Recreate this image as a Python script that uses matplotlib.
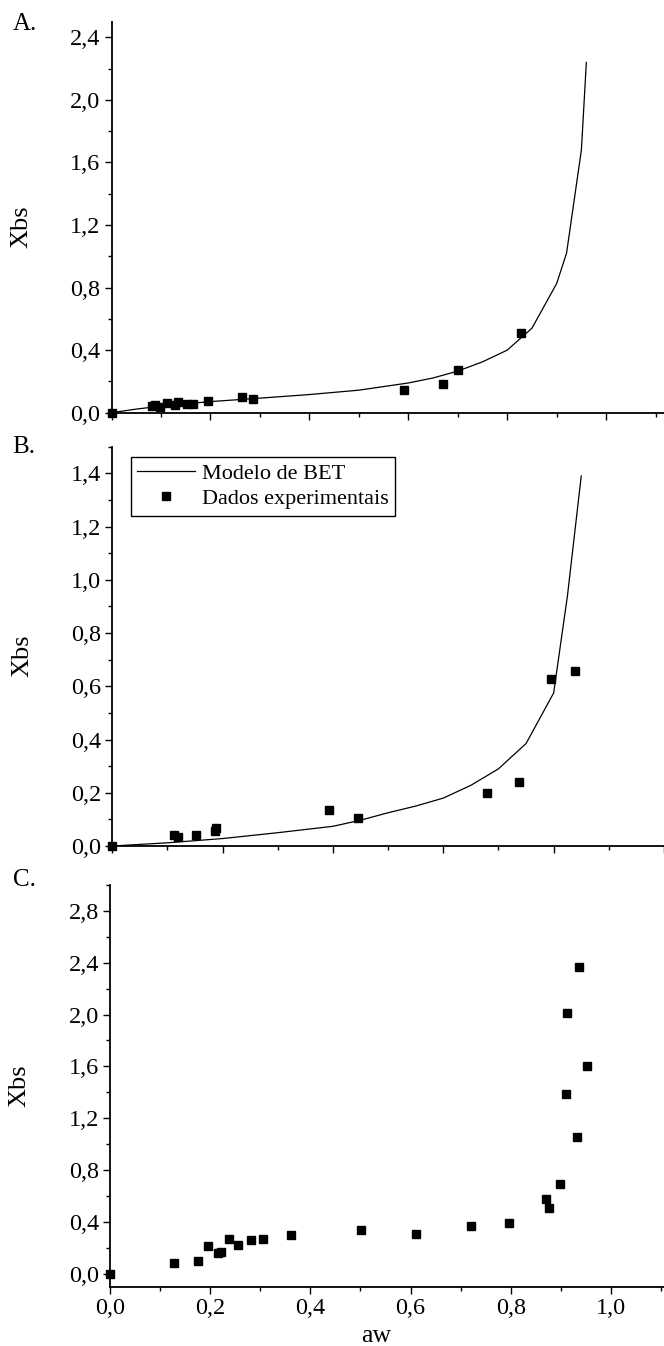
import numpy as np
import matplotlib
matplotlib.use('Agg')
import matplotlib.pyplot as plt
from matplotlib.ticker import MultipleLocator, FuncFormatter

plt.rcParams['font.family'] = ['Liberation Serif', 'DejaVu Serif']
plt.rcParams['mathtext.fontset'] = 'stix'

# panel A: experimental points and BET curve
aw_a = [0.0, 0.082, 0.087, 0.098, 0.113, 0.128, 0.134, 0.152, 0.165, 0.196,
        0.263, 0.287, 0.592, 0.671, 0.701, 0.827]
xbs_a = [0.0, 0.043, 0.049, 0.038, 0.060, 0.047, 0.066, 0.053, 0.058, 0.077,
         0.102, 0.088, 0.145, 0.185, 0.270, 0.509]
bet_aw_a = [0.0, 0.05, 0.1, 0.15, 0.2, 0.3, 0.4, 0.5, 0.6, 0.65, 0.7, 0.75,
            0.8, 0.85, 0.9, 0.92, 0.95, 0.96]
bet_x_a = [0.0, 0.023, 0.042, 0.057, 0.071, 0.093, 0.116, 0.144, 0.19, 0.222,
           0.266, 0.325, 0.40, 0.54, 0.826, 1.02, 1.68, 2.24]

# panel B
aw_b = [0.0, 0.111, 0.119, 0.152, 0.187, 0.188, 0.392, 0.446, 0.680, 0.737,
        0.795, 0.838]
xbs_b = [0.0, 0.041, 0.033, 0.041, 0.058, 0.066, 0.135, 0.106, 0.198, 0.239,
         0.629, 0.656]
bet_aw_b = [0.0, 0.1, 0.2, 0.3, 0.4, 0.45, 0.5, 0.55, 0.6, 0.65, 0.7, 0.75,
            0.8, 0.825, 0.85]
bet_x_b = [0.0, 0.012, 0.028, 0.05, 0.074, 0.097, 0.125, 0.15, 0.18, 0.228,
           0.29, 0.385, 0.575, 0.94, 1.39]

# panel C (points only)
aw_c = [0.0, 0.128, 0.175, 0.195, 0.215, 0.221, 0.237, 0.255, 0.281, 0.305,
        0.361, 0.502, 0.611, 0.720, 0.796, 0.871, 0.876, 0.899, 0.910, 0.932,
        0.913, 0.937, 0.953]
xbs_c = [0.0, 0.082, 0.099, 0.214, 0.163, 0.168, 0.269, 0.220, 0.258, 0.270,
         0.298, 0.334, 0.309, 0.368, 0.389, 0.579, 0.507, 0.695, 1.385, 1.055,
         2.010, 2.368, 1.601]

W, H = 664, 1346
fig = plt.figure(figsize=(W / 100, H / 100), dpi=100)


def make_axes(left, top, bottom, right=664):
    return fig.add_axes([left / W, 1 - bottom / H, (right - left) / W,
                         (bottom - top) / H])


comma = FuncFormatter(lambda v, p: ('%.1f' % v).replace('.', ','))


def style(ax, xmax, ylim, ymaj, show_x):
    ax.set_xlim(0, xmax)
    ax.set_ylim(*ylim)
    for s in ['top', 'right']:
        ax.spines[s].set_visible(False)
    for s in ['left', 'bottom']:
        ax.spines[s].set_linewidth(1.3)
    ax.xaxis.set_major_locator(MultipleLocator(0.2))
    ax.xaxis.set_minor_locator(MultipleLocator(0.1))
    ax.yaxis.set_major_locator(MultipleLocator(ymaj))
    ax.yaxis.set_minor_locator(MultipleLocator(ymaj / 2))
    ax.yaxis.set_major_formatter(comma)
    ax.xaxis.set_major_formatter(comma)
    ax.tick_params(which='major', direction='out', length=5, width=1.0,
                   labelsize=17.5, pad=3)
    ax.tick_params(which='minor', direction='out', length=3, width=1.0)
    if not show_x:
        ax.tick_params(axis='x', labelbottom=False)


ms = 5.5

# A
axA = make_axes(111.5, 21.7, 412.7)
axA.plot(bet_aw_a, bet_x_a, color='black', lw=0.9)
axA.plot(aw_a, xbs_a, 's', color='black', ms=ms, clip_on=False)
style(axA, 1.117, (0, 2.5), 0.4, False)
axA.set_ylabel('Xbs', fontsize=19)
axA.yaxis.set_label_coords(-0.143, 0.475)

# B
axB = make_axes(112.3, 446.7, 846)
axB.plot(bet_aw_b, bet_x_b, color='black', lw=0.9, label='Modelo de BET')
axB.plot(aw_b, xbs_b, 's', color='black', ms=ms, clip_on=False,
         label='Dados experimentais')
style(axB, 1.0, (0, 1.5), 0.2, False)
axB.set_ylabel('Xbs', fontsize=19)
axB.yaxis.set_label_coords(-0.143, 0.476)
leg = axB.legend(loc='upper left', bbox_to_anchor=(0.033, 0.975),
                 borderaxespad=0, fontsize=16, frameon=True, fancybox=False,
                 edgecolor='black', framealpha=1, handlelength=2.6,
                 handletextpad=0.3, labelspacing=0.2, borderpad=0.3)
leg.get_frame().set_linewidth(1.0)

# C
axC = make_axes(110, 885, 1286.7)
axC.plot(aw_c, xbs_c, 's', color='black', ms=ms, clip_on=False)
style(axC, 1.106, (-0.1, 3.0), 0.4, True)
axC.set_ylabel('Xbs', fontsize=19)
axC.yaxis.set_label_coords(-0.143, 0.5)
axC.set_xlabel('aw', fontsize=18.5, labelpad=-2)
axC.xaxis.set_label_coords(0.48, -0.095)

for lab, ybase in [('A.', 30), ('B.', 453), ('C.', 886)]:
    fig.text(12.5 / W, 1 - ybase / H, lab, fontsize=18, va='baseline',
             ha='left')

fig.savefig('out.png', dpi=100)
